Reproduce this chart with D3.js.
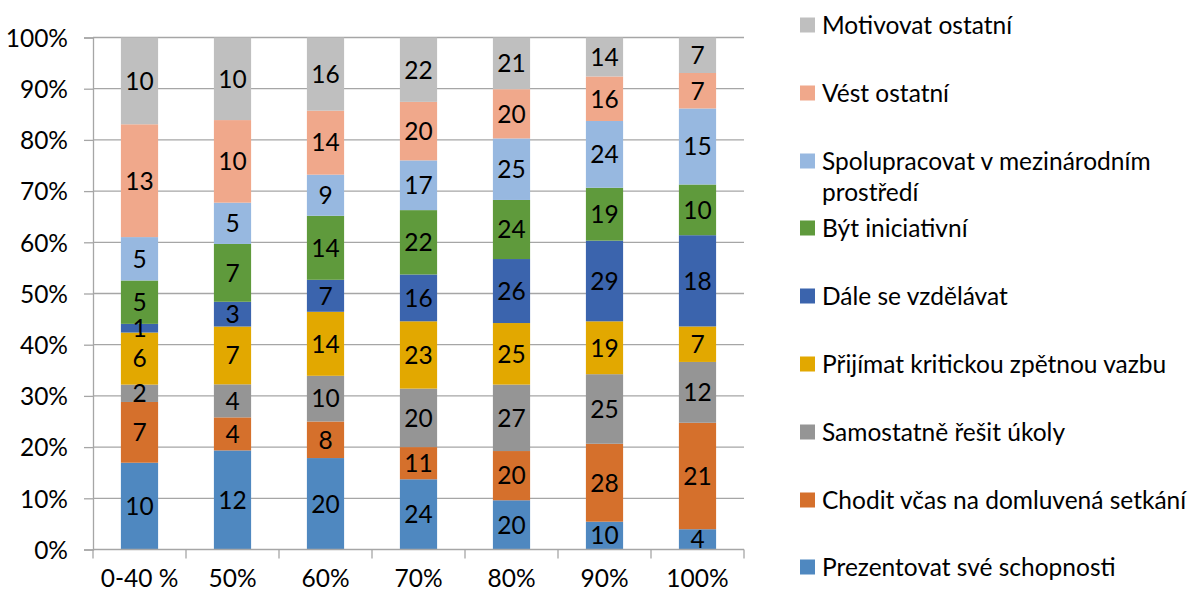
<!DOCTYPE html>
<html>
<head>
<meta charset="utf-8">
<script src="https://cdn.jsdelivr.net/npm/d3@7"></script>
<style>
  html, body { margin: 0; padding: 0; background: #fff; }
  svg text { font-family: Lato, "Open Sans", sans-serif; fill: #000; }
</style>
</head>
<body>
<svg id="chart" width="1190" height="593"></svg>
<script>
// Categories along the x axis
const categories = ["0-40 %", "50%", "60%", "70%", "80%", "90%", "100%"];

// Series, listed bottom to top of each stack
const seriesNames = [
  "Prezentovat své schopnosti",
  "Chodit včas na domluvená setkání",
  "Samostatně řešit úkoly",
  "Přijímat kritickou zpětnou vazbu",
  "Dále se vzdělávat",
  "Být iniciativní",
  "Spolupracovat v mezinárodním prostředí",
  "Vést ostatní",
  "Motivovat ostatní"
];

const prezentovat   = [10, 12, 20, 24, 20, 10, 4];
const chodit        = [7, 4, 8, 11, 20, 28, 21];
const samostatne    = [2, 4, 10, 20, 27, 25, 12];
const prijimat      = [6, 7, 14, 23, 25, 19, 7];
const vzdelavat     = [1, 3, 7, 16, 26, 29, 18];
const iniciativni   = [5, 7, 14, 22, 24, 19, 10];
const spolupracovat = [5, 5, 9, 17, 25, 24, 15];
const vest          = [13, 10, 14, 20, 20, 16, 7];
const motivovat     = [10, 10, 16, 22, 21, 14, 7];

const seriesValues = [prezentovat, chodit, samostatne, prijimat, vzdelavat,
                      iniciativni, spolupracovat, vest, motivovat];

const colors = ["#4F88C0", "#D5702C", "#959595", "#E2A800", "#3B64AD",
                "#5F9A3C", "#97B8E0", "#F0A88B", "#BFBFBF"];

const yTicks = [0, 0.1, 0.2, 0.3, 0.4, 0.5, 0.6, 0.7, 0.8, 0.9, 1];

const fontSize = 24.5;

// Build rows for the stack layout
const rows = categories.map((c, i) => {
  const r = { cat: c };
  seriesNames.forEach((s, j) => r[s] = seriesValues[j][i]);
  return r;
});

const stacked = d3.stack()
  .keys(seriesNames)
  .offset(d3.stackOffsetExpand)(rows);

const svg = d3.select("#chart");
const plotLeft = 93, plotRight = 744, plotTop = 37.5, plotBottom = 549.5;

const x = d3.scaleBand().domain(categories).range([plotLeft, plotRight])
  .paddingInner(0.6).paddingOuter(0.3);
const xBoundary = d3.scaleBand().domain(categories).range([plotLeft, plotRight]);
const y = d3.scaleLinear().domain([0, 1]).range([plotBottom, plotTop]);

// Gridlines
svg.append("g")
  .selectAll("line")
  .data(yTicks.filter(t => t > 0))
  .join("line")
  .attr("x1", plotLeft).attr("x2", plotRight)
  .attr("y1", d => y(d)).attr("y2", d => y(d))
  .attr("stroke", "#A6A6A6").attr("stroke-width", 1.3);

// Bars
const layer = svg.append("g").selectAll("g")
  .data(stacked)
  .join("g")
  .attr("fill", (d, i) => colors[i]);

layer.selectAll("rect")
  .data(d => d)
  .join("rect")
  .attr("x", d => x(d.data.cat))
  .attr("width", x.bandwidth())
  .attr("y", d => y(d[1]))
  .attr("height", d => y(d[0]) - y(d[1]));

// Value labels
const labels = svg.append("g").selectAll("g")
  .data(stacked)
  .join("g");
labels.selectAll("text")
  .data((d, i) => d.map((v, k) => ({ v, val: seriesValues[i][k] })))
  .join("text")
  .attr("x", d => x(d.v.data.cat) + x.bandwidth() / 2)
  .attr("y", d => (y(d.v[0]) + y(d.v[1])) / 2)
  .attr("dy", "0.36em")
  .attr("text-anchor", "middle")
  .attr("font-size", fontSize)
  .text(d => d.val);

// Y axis
const yAxis = d3.axisLeft(y).tickValues(yTicks)
  .tickFormat(d3.format(".0%")).tickSize(9).tickPadding(16);
const gy = svg.append("g").attr("transform", `translate(${plotLeft},0)`).call(yAxis);
gy.select(".domain").attr("stroke", "#A6A6A6").attr("stroke-width", 1.3);
gy.selectAll(".tick line").attr("stroke", "#A6A6A6").attr("stroke-width", 1.3);
gy.selectAll("text").attr("font-size", fontSize).attr("dy", "0.36em")
  .style("font-family", "Lato, sans-serif");

// X axis
const gx = svg.append("g").attr("transform", `translate(0,${plotBottom})`);
gx.append("line").attr("x1", plotLeft).attr("x2", plotRight)
  .attr("stroke", "#A6A6A6").attr("stroke-width", 1.3);
gx.selectAll("line.tick")
  .data(categories.map(c => xBoundary(c)).concat([plotRight]))
  .join("line").attr("class", "tick")
  .attr("x1", d => d).attr("x2", d => d)
  .attr("y1", 0).attr("y2", 9)
  .attr("stroke", "#A6A6A6").attr("stroke-width", 1.3);
gx.selectAll("text")
  .data(categories)
  .join("text")
  .attr("x", d => x(d) + x.bandwidth() / 2)
  .attr("y", 37)
  .attr("text-anchor", "middle")
  .attr("font-size", fontSize)
  .text(d => d);

// Legend, top entry is the last series
const legendY = [25, 93, 161, 228, 296, 364, 432, 500, 567];
const legendOrder = seriesNames.map((s, i) => i).reverse();
const lg = svg.append("g").selectAll("g")
  .data(legendOrder)
  .join("g")
  .attr("transform", (d, k) => `translate(800,${legendY[k]})`);
lg.append("rect").attr("x", 0).attr("y", -7.5).attr("width", 15).attr("height", 15)
  .attr("fill", d => colors[d]);
lg.each(function (d) {
  const g = d3.select(this);
  const name = seriesNames[d];
  const lines = name === "Spolupracovat v mezinárodním prostředí"
    ? ["Spolupracovat v mezinárodním", "prostředí"] : [name];
  lines.forEach((t, li) => {
    g.append("text").attr("x", 22).attr("y", li * 31)
      .attr("dy", "0.36em").attr("font-size", fontSize).text(t);
  });
});
</script>
</body>
</html>
